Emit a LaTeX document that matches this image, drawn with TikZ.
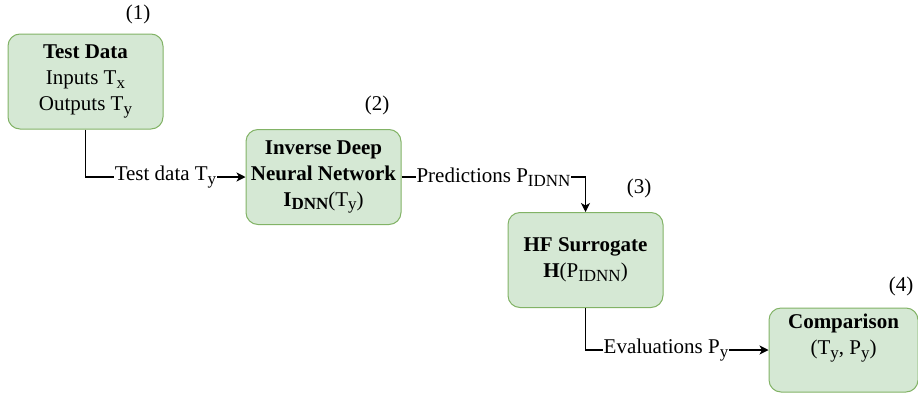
\documentclass[tikz,border=0pt]{standalone}
\usepackage{fontspec}
\setmainfont{Liberation Serif}
\usetikzlibrary{arrows.meta}
\definecolor{boxfill}{HTML}{D5E8D4}
\definecolor{boxline}{HTML}{82B366}
\newcommand\sbs[1]{\raisebox{-0.4ex}{\fontsize{17}{17}\selectfont #1}}
\begin{document}
\begin{tikzpicture}[x=1pt,y=-1pt,
  every node/.style={font=\fontsize{21}{26}\selectfont},
  procbox/.style={draw=boxline, line width=1pt, fill=boxfill, rounded corners=12pt,
    minimum width=155pt, minimum height=95pt, align=center, inner sep=2pt},
  conn/.style={draw=black, line width=1.1pt, -{Stealth[length=9pt,width=9pt,inset=2.5pt]}},
  elabel/.style={fill=white, inner sep=1pt},
  numlabel/.style={inner sep=0pt}]
\useasboundingbox (0,0) rectangle (918,394);
\node[procbox] (b1) at (85.5,81.5) {\textbf{Test Data}\\Inputs T\sbs{x}\\Outputs T\sbs{y}};
\node[procbox] (b2) at (323.5,177) {\textbf{Inverse Deep}\\\textbf{Neural Network}\\\textbf{I\sbs{DNN}}(T\sbs{y})};
\node[procbox] (b3) at (585.5,260) {\textbf{HF Surrogate}\\\textbf{H}(P\sbs{IDNN})};
\node[procbox, minimum width=149pt, minimum height=84pt] (b4) at (843.5,350) {};
\node[align=center, anchor=north] (b4t) at ([yshift=-3pt]b4.north) {\textbf{Comparison}\\(T\sbs{y}, P\sbs{y})};
\node[numlabel] (n1) at (138,14) {(1)};
\node[numlabel] (n2) at (377,105) {(2)};
\node[numlabel] (n3) at (639,188) {(3)};
\node[numlabel] (n4) at (901,286) {(4)};
\draw[conn] (b1.south) |- node[elabel, pos=0.75] {Test data T\sbs{y}} (b2.west);
\draw[conn] (b2.east) -| node[elabel, pos=0.25] {Predictions P\sbs{IDNN}} (b3.north);
\draw[conn] (b3.south) |- node[elabel, pos=0.72] {Evaluations P\sbs{y}} (b4.west);
\end{tikzpicture}
\end{document}
